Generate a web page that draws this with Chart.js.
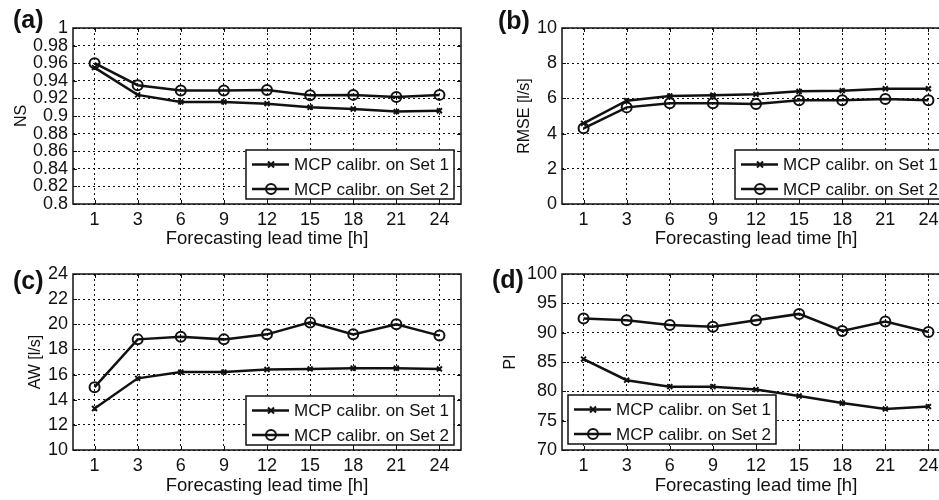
<!DOCTYPE html>
<html><head><meta charset="utf-8">
<script src="https://cdn.jsdelivr.net/npm/chart.js@4/dist/chart.umd.min.js"></script>
<style>
html,body{margin:0;padding:0;background:#fff;overflow:hidden;width:939px;height:500px;position:relative;}
.p{position:absolute;}
</style></head><body>
<div class="p" style="left:0;top:0;"><canvas id="ca" width="470" height="250"></canvas></div>
<div class="p" style="left:469px;top:0;"><canvas id="cb" width="490" height="250"></canvas></div>
<div class="p" style="left:0;top:250px;"><canvas id="cc" width="470" height="250"></canvas></div>
<div class="p" style="left:469px;top:250px;"><canvas id="cd" width="490" height="250"></canvas></div>
<script>
// ---- data ----
const leadTimes = ['1','3','6','9','12','15','18','21','24'];
const seriesNames = ['MCP calibr. on Set 1','MCP calibr. on Set 2'];
const xTitle = 'Forecasting lead time [h]';

const nsSet1   = [0.955, 0.924, 0.916, 0.916, 0.914, 0.910, 0.908, 0.905, 0.906];
const nsSet2   = [0.960, 0.935, 0.929, 0.929, 0.9295, 0.9235, 0.924, 0.9215, 0.924];
const rmseSet1 = [4.58, 5.87, 6.14, 6.18, 6.23, 6.40, 6.44, 6.55, 6.55];
const rmseSet2 = [4.30, 5.49, 5.72, 5.72, 5.68, 5.89, 5.89, 5.97, 5.89];
const awSet1   = [13.3, 15.7, 16.2, 16.2, 16.4, 16.45, 16.5, 16.5, 16.45];
const awSet2   = [15.0, 18.8, 19.0, 18.8, 19.2, 20.15, 19.2, 20.0, 19.1];
const piSet1   = [85.5, 81.9, 80.8, 80.8, 80.3, 79.2, 78.0, 77.0, 77.4];
const piSet2   = [92.4, 92.1, 91.3, 91.0, 92.1, 93.2, 90.3, 91.9, 90.1];

const nsRange   = [0.8, 1, 0.02];
const rmseRange = [0, 10, 2];
const awRange   = [10, 24, 2];
const piRange   = [70, 100, 5];

// ---- styling / layout ----
const FONT = "'Liberation Sans', Arial, Helvetica, sans-serif";
const INK = '#111';
Chart.defaults.font.family = FONT;
Chart.defaults.color = INK;

const panels = [
  {id:'ca', label:'(a)', yTitle:'NS',         s1:nsSet1,   s2:nsSet2,   range:nsRange,   top:28, left:73, xh:46, yTitlePad:12, xTitlePad:0, lab:[13,21.5], legend:'se'},
  {id:'cb', label:'(b)', yTitle:'RMSE [l/s]', s1:rmseSet1, s2:rmseSet2, range:rmseRange, top:28, left:93, xh:46, yTitlePad:46, xTitlePad:0, lab:[29,22.5], legend:'se'},
  {id:'cc', label:'(c)', yTitle:'AW [l/s]',   s1:awSet1,   s2:awSet2,   range:awRange,   top:24, left:73, xh:50, yTitlePad:26, xTitlePad:3, lab:[13,32.5], legend:'se'},
  {id:'cd', label:'(d)', yTitle:'PI',         s1:piSet1,   s2:piSet2,   range:piRange,   top:24, left:93, xh:50, yTitlePad:32, xTitlePad:3, lab:[23,31.5], legend:'sw'}
];

function drawMarker(ctx, style, x, y) {
  ctx.beginPath();
  ctx.lineWidth = 2;
  if (style === 'circle') {
    ctx.arc(x, y, 5, 0, Math.PI * 2);
  } else {
    const r = 3;
    ctx.moveTo(x - r, y - r); ctx.lineTo(x + r, y + r);
    ctx.moveTo(x - r, y + r); ctx.lineTo(x + r, y - r);
  }
  ctx.stroke();
}

const decor = {
  id: 'decor',
  afterDraw(chart, args, o) {
    const ctx = chart.ctx, ca = chart.chartArea;
    ctx.save();
    ctx.strokeStyle = INK; ctx.fillStyle = INK;
    // inner tick marks
    ctx.lineWidth = 1;
    const xs = chart.scales.x, ys = chart.scales.y;
    ctx.beginPath();
    xs.ticks.forEach((t, i) => {
      const px = Math.round(xs.getPixelForTick(i)) + 0.5;
      ctx.moveTo(px, ca.bottom); ctx.lineTo(px, ca.bottom - 4);
      ctx.moveTo(px, ca.top); ctx.lineTo(px, ca.top + 4);
    });
    ys.ticks.forEach((t, i) => {
      const py = Math.round(ys.getPixelForTick(i)) + 0.5;
      ctx.moveTo(ca.left, py); ctx.lineTo(ca.left + 4, py);
      ctx.moveTo(ca.right, py); ctx.lineTo(ca.right - 4, py);
    });
    ctx.stroke();
    // frame
    ctx.lineWidth = 1.5;
    ctx.strokeRect(ca.left, ca.top, ca.right - ca.left, ca.bottom - ca.top);
    // legend
    ctx.font = '17px ' + FONT;
    const tw = Math.max(...seriesNames.map(n => ctx.measureText(n).width));
    const bw = Math.round(48 + tw + 5), bh = 49;
    let bx, by;
    if (o.legend === 'sw') { bx = ca.left + 6; by = ca.bottom - 6 - bh; }
    else { bx = ca.right - 7 - bw; by = ca.bottom - 5 - bh; }
    ctx.fillStyle = '#fff';
    ctx.fillRect(bx, by, bw, bh);
    ctx.lineWidth = 1.5; ctx.strokeStyle = INK;
    ctx.strokeRect(bx, by, bw, bh);
    ctx.fillStyle = INK;
    ctx.textBaseline = 'middle'; ctx.textAlign = 'left';
    const styles = ['crossRot', 'circle'];
    [14.5, 39].forEach((dy, k) => {
      const yy = by + dy;
      ctx.lineWidth = 2.5;
      ctx.beginPath(); ctx.moveTo(bx + 6, yy); ctx.lineTo(bx + 43, yy); ctx.stroke();
      drawMarker(ctx, styles[k], bx + 25, yy);
      ctx.fillText(seriesNames[k], bx + 48, yy + 1);
    });
    // panel label
    ctx.font = 'bold 25px ' + FONT;
    ctx.fillText(o.label, o.lab[0], o.lab[1]);
    ctx.restore();
  }
};

panels.forEach(P => {
  const [ymin, ymax, ystep] = P.range;
  new Chart(document.getElementById(P.id), {
    type: 'line',
    data: {
      labels: leadTimes,
      datasets: [
        {label: seriesNames[0], data: P.s1, borderColor: INK, borderWidth: 2.5,
         pointStyle: 'crossRot', pointRadius: 3.5, pointBorderWidth: 2,
         pointBorderColor: INK, pointBackgroundColor: INK, tension: 0},
        {label: seriesNames[1], data: P.s2, borderColor: INK, borderWidth: 2.5,
         pointStyle: 'circle', pointRadius: 5, pointBorderWidth: 2,
         pointBorderColor: INK, pointBackgroundColor: 'rgba(0,0,0,0)', tension: 0}
      ]
    },
    options: {
      responsive: false,
      animation: false,
      events: [],
      layout: {padding: {top: P.top, right: 9, left: 0, bottom: 0}},
      plugins: {
        legend: {display: false},
        tooltip: {enabled: false},
        decor: {label: P.label, lab: P.lab, legend: P.legend}
      },
      scales: {
        x: {
          type: 'category',
          offset: true,
          grid: {color: INK, lineWidth: 1, drawTicks: false, offset: false},
          border: {display: false, dash: [2, 3]},
          ticks: {padding: 5, autoSkip: false, maxRotation: 0, font: {size: 18}, color: INK},
          title: {display: true, text: xTitle, font: {size: 18.5}, color: INK, padding: {top: 0, bottom: P.xTitlePad}},
          afterFit: s => { s.height = P.xh; }
        },
        y: {
          min: ymin, max: ymax,
          grid: {color: INK, lineWidth: 1, drawTicks: false},
          border: {display: false, dash: [2, 3]},
          ticks: {stepSize: ystep, padding: 5, autoSkip: false, font: {size: 18}, color: INK,
                  callback: v => String(+(+v).toFixed(2))},
          title: {display: true, text: P.yTitle, font: {size: 16}, color: INK, padding: {top: P.yTitlePad, bottom: 0}},
          afterFit: s => { s.width = P.left; }
        }
      }
    },
    plugins: [decor]
  });
});
</script>
</body></html>
